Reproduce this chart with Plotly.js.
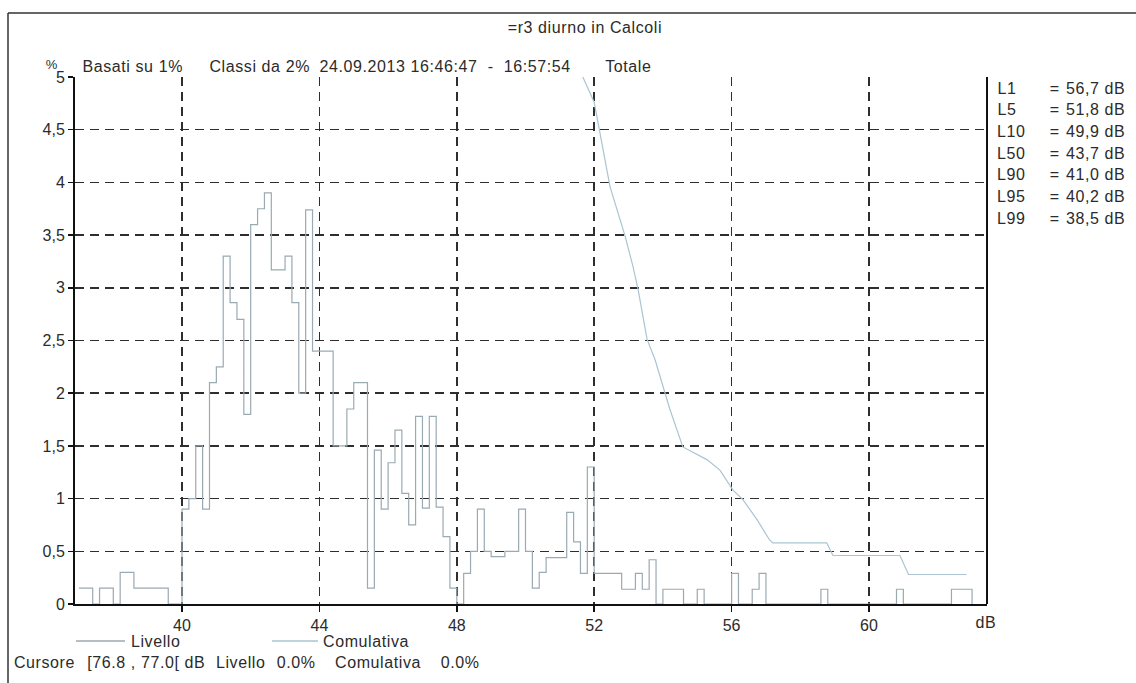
<!DOCTYPE html>
<html>
<head>
<meta charset="utf-8">
<script src="https://cdn.plot.ly/plotly-3.0.1.min.js"></script>
<style>
  html, body { margin: 0; padding: 0; background: #ffffff; }
  #chart { width: 1136px; height: 683px; }
  #chart .annotation-text { letter-spacing: 0.6px; }
</style>
</head>
<body>
<div id="chart"></div>
<script>
// ---- Data ----
// Livello: level distribution, classes of 0.2 dB (class start, %)
const levelClassStart = [
  37.0, 37.2, 37.4, 37.6, 37.8, 38.0, 38.2, 38.4, 38.6, 38.8,
  39.0, 39.2, 39.4, 39.6, 39.8, 40.0, 40.2, 40.4, 40.6, 40.8,
  41.0, 41.2, 41.4, 41.6, 41.8, 42.0, 42.2, 42.4, 42.6, 42.8,
  43.0, 43.2, 43.4, 43.6, 43.8, 44.0, 44.2, 44.4, 44.6, 44.8,
  45.0, 45.2, 45.4, 45.6, 45.8, 46.0, 46.2, 46.4, 46.6, 46.8,
  47.0, 47.2, 47.4, 47.6, 47.8, 48.0, 48.2, 48.4, 48.6, 48.8,
  49.0, 49.2, 49.4, 49.6, 49.8, 50.0, 50.2, 50.4, 50.6, 50.8,
  51.0, 51.2, 51.4, 51.6, 51.8, 52.0, 52.2, 52.4, 52.6, 52.8,
  53.0, 53.2, 53.4, 53.6, 53.8, 54.0, 54.2, 54.4, 54.6, 54.8,
  55.0, 55.2, 55.4, 55.6, 55.8, 56.0, 56.2, 56.4, 56.6, 56.8,
  57.0, 57.2, 57.4, 57.6, 57.8, 58.0, 58.2, 58.4, 58.6, 58.8,
  59.0, 59.2, 59.4, 59.6, 59.8, 60.0, 60.2, 60.4, 60.6, 60.8,
  61.0, 61.2, 61.4, 61.6, 61.8, 62.0, 62.2, 62.4, 62.6, 62.8,
  63.0
];
const livello = [
  0.15, 0.15, 0.00, 0.15, 0.15, 0.00, 0.30, 0.30, 0.15, 0.15,
  0.15, 0.15, 0.15, 0.00, 0.00, 0.90, 1.00, 1.50, 0.90, 2.10,
  2.25, 3.30, 2.86, 2.70, 1.80, 3.60, 3.75, 3.90, 3.17, 3.17,
  3.30, 2.86, 2.00, 3.74, 2.40, 2.40, 2.40, 1.50, 1.50, 1.85,
  2.10, 2.10, 0.15, 1.46, 0.90, 1.34, 1.65, 1.05, 0.75, 1.78,
  0.91, 1.78, 0.92, 0.64, 0.15, 0.00, 0.29, 0.50, 0.90, 0.50,
  0.45, 0.45, 0.50, 0.50, 0.90, 0.50, 0.15, 0.30, 0.44, 0.44,
  0.44, 0.87, 0.59, 0.29, 1.30, 0.29, 0.29, 0.29, 0.29, 0.14,
  0.14, 0.29, 0.14, 0.42, 0.00, 0.14, 0.14, 0.14, 0.00, 0.00,
  0.14, 0.00, 0.00, 0.00, 0.00, 0.29, 0.00, 0.00, 0.14, 0.29,
  0.00, 0.00, 0.00, 0.00, 0.00, 0.00, 0.00, 0.00, 0.14, 0.00,
  0.00, 0.00, 0.00, 0.00, 0.00, 0.00, 0.00, 0.00, 0.00, 0.14,
  0.00, 0.00, 0.00, 0.00, 0.00, 0.00, 0.00, 0.14, 0.14, 0.14,
  0.00
];
// Comulativa: exceedance curve (dB, %)
const cumLevel = [37.0, 38.5, 40.2, 41.0, 43.7, 49.9, 51.67, 52.0, 52.46, 52.9,
  53.13, 53.28, 53.54, 53.77, 54.2, 54.58, 55.28, 55.66, 56.04, 56.33,
  56.74, 57.1, 57.2, 58.77, 58.95, 60.9, 61.15, 62.84];
const cumPercent = [100, 99, 95, 90, 50, 10, 5.0, 4.76, 3.96, 3.49,
  3.2, 2.98, 2.51, 2.32, 1.85, 1.49, 1.37, 1.27, 1.08, 0.99,
  0.80, 0.61, 0.58, 0.58, 0.46, 0.46, 0.28, 0.28];

const xTickVals = [40, 44, 48, 52, 56, 60];
const yTickVals = [0, 0.5, 1, 1.5, 2, 2.5, 3, 3.5, 4, 4.5, 5];
const yTickText = ['0', '0,5', '1', '1,5', '2', '2,5', '3', '3,5', '4', '4,5', '5'];

const statLabels = ['L1', 'L5', 'L10', 'L50', 'L90', 'L95', 'L99'];
const statValues = ['56,7 dB', '51,8 dB', '49,9 dB', '43,7 dB', '41,0 dB', '40,2 dB', '38,5 dB'];

const titleText = '=r3 diurno in Calcoli';
const subtitleParts = ['Basati su 1%', 'Classi da 2%', '24.09.2013 16:46:47  -  16:57:54', 'Totale'];
const cursorParts = ['Cursore', '[76.8 , 77.0[ dB', 'Livello', '0.0%', 'Comulativa', '0.0%'];
const seriesNames = ['Livello', 'Comulativa'];

// ---- Layout helpers (pixel -> paper) ----
const W = 1136, H = 683;
const ML = 75, MR = 149, MT = 77, MB = 79;
const PW = W - ML - MR, PH = H - MT - MB;
const px = x => (x - ML) / PW;
const py = y => (H - MB - y) / PH;

const FONT = 'Arial, Liberation Sans, sans-serif';
const txtFont = {family: FONT, size: 16, color: '#2b2b2b'};
const livColor = '#9aaab2';
const cumColor = '#aac5d1';

const traces = [
  {
    x: levelClassStart, y: livello, type: 'scatter', mode: 'lines',
    line: {shape: 'hv', color: livColor, width: 1.2},
    name: seriesNames[0], hoverinfo: 'skip', showlegend: false
  },
  {
    x: cumLevel, y: cumPercent, type: 'scatter', mode: 'lines',
    line: {color: cumColor, width: 1.2},
    name: seriesNames[1], hoverinfo: 'skip', showlegend: false
  }
];

function ann(text, x, y, anchor, font) {
  return {text: text, x: px(x), y: py(y), xref: 'paper', yref: 'paper', showarrow: false,
          xanchor: anchor || 'left', yanchor: 'middle', font: font || txtFont};
}

const annotations = [
  ann(titleText, 585, 28, 'center'),
  ann('%', 52, 64, 'center', {...txtFont, size: 13}),
  ann('dB', 986, 622, 'center')
];
const subX = [84, 211, 327, 605];
subtitleParts.forEach((t, i) => annotations.push(ann(t, subX[i], 66)));
const curX = [14, 90, 216, 276, 336, 440];
cursorParts.forEach((t, i) => annotations.push(ann(t, curX[i], 662)));
// legend texts
annotations.push(ann(seriesNames[0], 131, 641));
annotations.push(ann(seriesNames[1], 324, 641));

statLabels.forEach((lab, i) => {
  const yy = 88 + i * 21.7;
  annotations.push(ann(lab, 996, yy));
  annotations.push(ann('=', 1048, yy));
  annotations.push(ann(statValues[i], 1066, yy));
});

const layout = {
  width: W, height: H,
  margin: {l: ML, r: MR, t: MT, b: MB, pad: 0},
  paper_bgcolor: '#ffffff', plot_bgcolor: '#ffffff',
  showlegend: false,
  xaxis: {
    range: [36.885, 63.435], tickmode: 'array', tickvals: xTickVals,
    showgrid: true, gridcolor: '#2e2e2e', gridwidth: 1.5, griddash: '9px,6px',
    showline: true, linecolor: '#111111', linewidth: 2,
    ticks: 'outside', ticklen: 6, tickcolor: '#111111', tickwidth: 1.5,
    zeroline: false, tickfont: txtFont, fixedrange: true
  },
  yaxis: {
    range: [0, 5], tickmode: 'array', tickvals: yTickVals, ticktext: yTickText,
    showgrid: true, gridcolor: '#2e2e2e', gridwidth: 1.5, griddash: '9px,6px',
    showline: true, linecolor: '#111111', linewidth: 2,
    ticks: 'outside', ticklen: 5, tickcolor: '#111111', tickwidth: 1.5,
    zeroline: false, tickfont: txtFont, fixedrange: true
  },
  shapes: [
    // right border of the plotting area
    {type: 'line', xref: 'paper', yref: 'paper', x0: 1, x1: 1, y0: 0, y1: 1,
     line: {color: '#111111', width: 2}},
    // outer frame of the printout (top and left edges visible)
    {type: 'line', xref: 'paper', yref: 'paper', x0: px(8), x1: px(1136), y0: py(13), y1: py(13),
     line: {color: '#333333', width: 1.5}},
    {type: 'line', xref: 'paper', yref: 'paper', x0: px(8), x1: px(8), y0: py(13), y1: py(683),
     line: {color: '#333333', width: 1.5}},
    // legend samples
    {type: 'line', xref: 'paper', yref: 'paper', x0: px(76), x1: px(125), y0: py(641), y1: py(641),
     line: {color: livColor, width: 1.5}},
    {type: 'line', xref: 'paper', yref: 'paper', x0: px(272), x1: px(318), y0: py(641), y1: py(641),
     line: {color: cumColor, width: 1.5}}
  ],
  annotations: annotations
};

Plotly.newPlot('chart', traces, layout, {displayModeBar: false, staticPlot: true});
</script>
</body>
</html>
